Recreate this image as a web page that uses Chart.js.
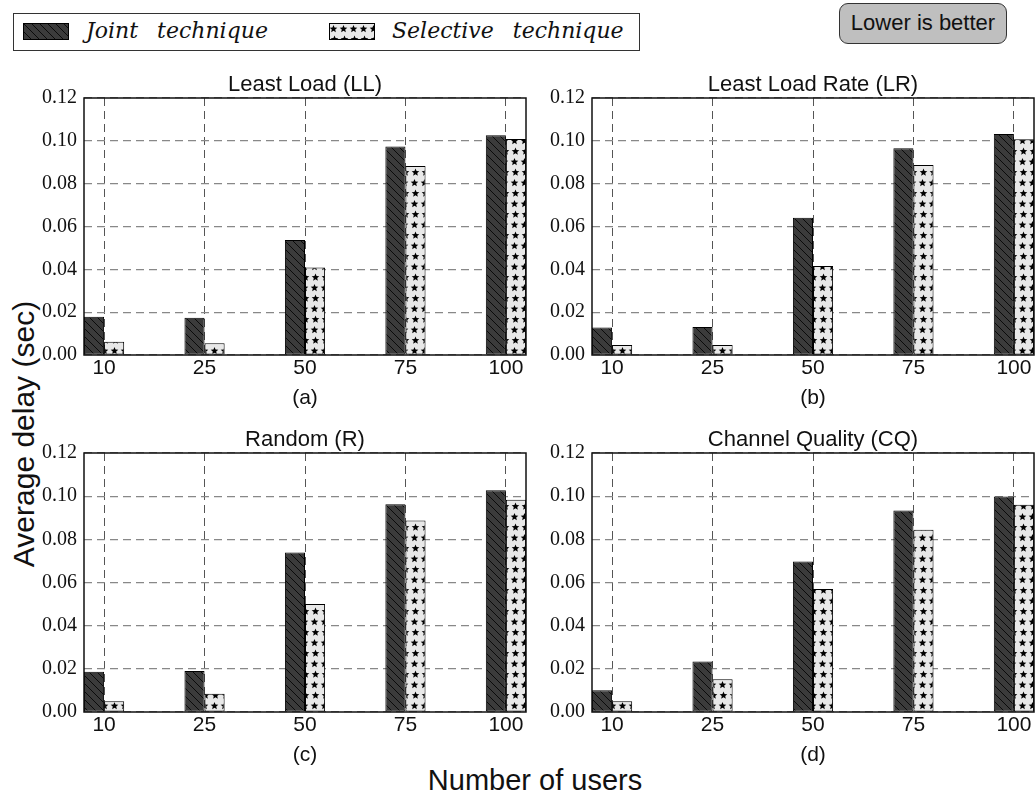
<!DOCTYPE html>
<html>
<head>
<meta charset="utf-8">
<script src="https://cdn.jsdelivr.net/npm/chart.js@4.4.1/dist/chart.umd.min.js"></script>
<style>
    html, body { margin: 0; padding: 0; background: #fff; }
    body { position: relative; width: 1036px; height: 793px; overflow: hidden; font-family: 'Liberation Sans', Arial, sans-serif; color: #111; }
    .panel { position: absolute; }
    #legend { position: absolute; left: 13px; top: 13px; width: 627px; height: 38px; box-sizing: border-box; border: 1.3px solid #333; background: #fff; }
    #legend canvas { position: absolute; top: 9px; }
    #legend .lg { position: absolute; top: 4px; font-family: 'DejaVu Serif', serif; font-style: italic; font-size: 22px; word-spacing: 12px; white-space: nowrap; }
    #badge { position: absolute; left: 839px; top: 3px; width: 168px; height: 41px; box-sizing: border-box; border: 1.5px solid #333; border-radius: 9px; background: #bfbfbf; font-size: 22px; line-height: 38px; text-align: center; }
    #yTitle { position: absolute; left: -176px; top: 417px; width: 400px; height: 34px; line-height: 34px; text-align: center; font-size: 30px; transform: rotate(-90deg); transform-origin: 50% 50%; white-space: nowrap; }
    #xTitle { position: absolute; left: 335px; top: 763px; width: 400px; height: 34px; line-height: 34px; text-align: center; font-size: 29px; white-space: nowrap; }
</style>
</head>
<body>
<div id="legend">
    <canvas id="swatchJoint" width="46" height="17" style="left:9px"></canvas>
    <span class="lg" style="left:72px">Joint technique</span>
    <canvas id="swatchSelective" width="46" height="17" style="left:315px"></canvas>
    <span class="lg" style="left:378px">Selective technique</span>
</div>
<div id="badge">Lower is better</div>
<div id="yTitle">Average delay (sec)</div>
<div id="xTitle">Number of users</div>

<canvas id="chartLL" class="panel"></canvas>
<canvas id="chartLR" class="panel"></canvas>
<canvas id="chartR" class="panel"></canvas>
<canvas id="chartCQ" class="panel"></canvas>

<script>
// --- DATA ---
const userCounts = ['10', '25', '50', '75', '100'];
const panelTitles = ['Least Load (LL)', 'Least Load Rate (LR)', 'Random (R)', 'Channel Quality (CQ)'];
const panelTags = ['(a)', '(b)', '(c)', '(d)'];
const seriesNames = ['Joint technique', 'Selective technique'];

// average delay in seconds
const llJoint     = [0.0179, 0.0174, 0.0537, 0.0973, 0.1026];
const llSelective = [0.0062, 0.0055, 0.0408, 0.0882, 0.1009];
const lrJoint     = [0.0128, 0.0131, 0.0641, 0.0965, 0.1032];
const lrSelective = [0.0047, 0.0047, 0.0416, 0.0887, 0.1007];
const rJoint      = [0.0186, 0.0190, 0.0739, 0.0963, 0.1027];
const rSelective  = [0.0050, 0.0085, 0.0500, 0.0887, 0.0983];
const cqJoint     = [0.0101, 0.0234, 0.0697, 0.0934, 0.0999];
const cqSelective = [0.0050, 0.0152, 0.0570, 0.0844, 0.0960];

const yMax = 0.12;
const yStep = 0.02;

// --- FILL PATTERNS ---
function makeHatch() {
    const c = document.createElement('canvas');
    c.width = 8; c.height = 8;
    const g = c.getContext('2d');
    g.fillStyle = '#3b3b3b';
    g.fillRect(0, 0, 8, 8);
    g.strokeStyle = '#0a0a0a';
    g.lineWidth = 1;
    g.beginPath();
    g.moveTo(0, 0); g.lineTo(8, 8);
    g.moveTo(-1, 7); g.lineTo(1, 9);
    g.moveTo(7, -1); g.lineTo(9, 1);
    g.stroke();
    return g.createPattern(c, 'repeat');
}

function drawStar(g, cx, cy, r) {
    g.beginPath();
    for (let i = 0; i < 10; i++) {
        const rad = i % 2 ? r * 0.45 : r;
        const a = -Math.PI / 2 + i * Math.PI / 5;
        const px = cx + rad * Math.cos(a), py = cy + rad * Math.sin(a);
        if (i === 0) g.moveTo(px, py); else g.lineTo(px, py);
    }
    g.closePath();
    g.fill();
}

function makeStars() {
    const c = document.createElement('canvas');
    c.width = 10; c.height = 21;
    const g = c.getContext('2d');
    g.fillStyle = '#e8e8e8';
    g.fillRect(0, 0, 10, 21);
    g.fillStyle = '#000';
    drawStar(g, 4.5, 6, 4);
    drawStar(g, 5.5, 16.5, 4);
    return g.createPattern(c, 'repeat');
}

const hatchFill = makeHatch();
const starFill = makeStars();

// legend swatches
[['swatchJoint', hatchFill], ['swatchSelective', starFill]].forEach(([id, fill]) => {
    const g = document.getElementById(id).getContext('2d');
    g.fillStyle = fill;
    g.fillRect(0, 0, 46, 17);
    g.strokeStyle = '#000';
    g.lineWidth = 1;
    g.strokeRect(0.5, 0.5, 45, 16);
});

// --- CHARTS ---
const framePlugin = {
    id: 'frame',
    afterDatasetsDraw(chart) {
        const { ctx, chartArea: a } = chart;
        ctx.save();
        ctx.setLineDash([]);
        ctx.strokeStyle = '#111';
        ctx.lineWidth = 1.5;
        ctx.strokeRect(a.left, a.top, a.right - a.left, a.bottom - a.top);
        ctx.restore();
    }
};

const panels = [
    { id: 'chartLL', title: panelTitles[0], tag: panelTags[0], joint: llJoint, selective: llSelective, left: 20,  top: 72,  width: 510, height: 338, padRight: 4 },
    { id: 'chartLR', title: panelTitles[1], tag: panelTags[1], joint: lrJoint, selective: lrSelective, left: 528, top: 72,  width: 508, height: 338, padRight: 2 },
    { id: 'chartR',  title: panelTitles[2], tag: panelTags[2], joint: rJoint,  selective: rSelective,  left: 20,  top: 427, width: 510, height: 340, padRight: 4 },
    { id: 'chartCQ', title: panelTitles[3], tag: panelTags[3], joint: cqJoint, selective: cqSelective, left: 528, top: 427, width: 508, height: 340, padRight: 2 },
];

panels.forEach(p => {
    const canvas = document.getElementById(p.id);
    canvas.width = p.width;
    canvas.height = p.height;
    canvas.style.left = p.left + 'px';
    canvas.style.top = p.top + 'px';
    canvas.style.width = p.width + 'px';
    canvas.style.height = p.height + 'px';

    new Chart(canvas.getContext('2d'), {
        type: 'bar',
        data: {
            datasets: [
                {
                    label: seriesNames[0],
                    data: p.joint.map((v, i) => ({ x: i, y: v })),
                    backgroundColor: hatchFill,
                    borderColor: '#000',
                    borderWidth: 1,
                    borderSkipped: false,
                    categoryPercentage: 0.4,
                    barPercentage: 1,
                },
                {
                    label: seriesNames[1],
                    data: p.selective.map((v, i) => ({ x: i, y: v })),
                    backgroundColor: starFill,
                    borderColor: '#000',
                    borderWidth: 1,
                    borderSkipped: false,
                    categoryPercentage: 0.4,
                    barPercentage: 1,
                }
            ]
        },
        options: {
            responsive: false,
            animation: false,
            devicePixelRatio: 1,
            layout: { padding: { left: 0, right: p.padRight, top: 0, bottom: 0 } },
            plugins: {
                legend: { display: false },
                tooltip: { enabled: false },
                title: {
                    display: true,
                    text: p.title,
                    fullSize: false,
                    color: '#111',
                    padding: 0,
                    font: { family: 'Liberation Sans', size: 22, weight: 'normal', lineHeight: '26px' }
                },
                subtitle: {
                    display: true,
                    position: 'bottom',
                    text: p.tag,
                    fullSize: false,
                    color: '#111',
                    padding: { top: 5, bottom: 0 },
                    font: { family: 'Liberation Sans', size: 21, weight: 'normal', lineHeight: '24px' }
                }
            },
            scales: {
                x: {
                    type: 'linear',
                    min: -0.2,
                    max: 4.2,
                    offset: false,
                    grid: { offset: false, color: '#555', lineWidth: 1, drawTicks: false },
                    border: { display: false, dash: [8, 5] },
                    ticks: {
                        stepSize: 1,
                        includeBounds: false,
                        autoSkip: false,
                        maxRotation: 0,
                        padding: 1,
                        color: '#111',
                        font: { family: 'Liberation Sans', size: 21 },
                        callback: v => userCounts[v]
                    },
                    afterFit: s => { s.height = 26; }
                },
                y: {
                    min: 0,
                    max: yMax,
                    grid: { color: '#888', lineWidth: 1.2, drawTicks: false },
                    border: { display: false, dash: [8, 5] },
                    ticks: {
                        stepSize: yStep,
                        padding: 7,
                        color: '#111',
                        font: { family: 'Liberation Serif', size: 20 },
                        callback: v => v.toFixed(2)
                    },
                    afterFit: s => { s.width = 64; }
                }
            }
        },
        plugins: [framePlugin]
    });
});
</script>
</body>
</html>
